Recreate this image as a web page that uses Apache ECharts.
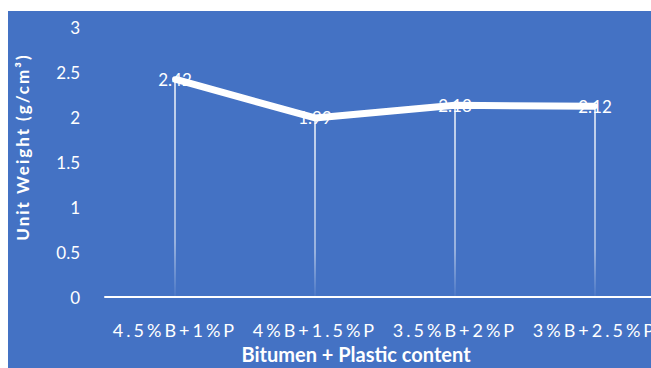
<!DOCTYPE html>
<html>
<head>
<meta charset="utf-8">
<script src="https://cdn.jsdelivr.net/npm/echarts@6/dist/echarts.min.js"></script>
<style>
  html, body { margin: 0; padding: 0; background: #ffffff; }
  #chart { position: absolute; left: 8px; top: 11px; width: 643px; height: 357px; }
</style>
</head>
<body>
<div id="chart"></div>
<script>
// Mix designations (bitumen % + plastic %)
const categories = ['4.5%B+1%P', '4%B+1.5%P', '3.5%B+2%P', '3%B+2.5%P'];
// Unit weight, g/cm³
const unitWeight = [2.42, 1.99, 2.13, 2.12];
// Value axis range
const yMin = 0;
const yMax = 3;
const yStep = 0.5;

const xTitle = 'Bitumen + Plastic content';
const yTitle = 'Unit Weight (g/cm³)';

const font = 'Lato, "Open Sans", sans-serif';
const el = document.getElementById('chart');
const chart = echarts.init(el, null, { renderer: 'svg' });

chart.setOption({
  animation: false,
  backgroundColor: '#4472C4',
  // plot runs past the right edge so the last category is clipped
  grid: { left: 97, width: 560, top: 16, bottom: 71, outerBoundsMode: 'none', containLabel: false },
  xAxis: {
    type: 'category',
    data: categories,
    boundaryGap: true,
    name: xTitle,
    nameLocation: 'middle',
    nameGap: 40,
    nameTextStyle: { color: '#ffffff', fontFamily: font, fontSize: 20, fontWeight: 'bold', padding: [0, 58, 0, 0] },
    axisLine: { show: true, lineStyle: { color: '#ffffff', width: 2 } },
    axisTick: { show: false },
    axisLabel: { color: '#ffffff', fontFamily: font, fontSize: 18, margin: 24, interval: 0 },
    splitLine: { show: false }
  },
  yAxis: {
    type: 'value',
    min: yMin,
    max: yMax,
    interval: yStep,
    name: yTitle,
    nameLocation: 'middle',
    nameGap: 74,
    nameTextStyle: { color: '#ffffff', fontFamily: font, fontSize: 17, fontWeight: 'bold', padding: [0, 0, 0, 30] },
    axisLine: { show: false },
    axisTick: { show: false },
    axisLabel: { color: '#ffffff', fontFamily: font, fontSize: 17, margin: 25 },
    splitLine: { show: false }
  },
  series: [
    {
      // thin drop lines from each point to the category axis
      type: 'bar',
      data: unitWeight,
      barWidth: 1.5,
      silent: true,
      itemStyle: {
        color: new echarts.graphic.LinearGradient(0, 0, 0, 1, [
          { offset: 0, color: 'rgba(255,255,255,0.95)' },
          { offset: 0.75, color: 'rgba(255,255,255,0.6)' },
          { offset: 1, color: 'rgba(255,255,255,0.05)' }
        ])
      },
      z: 1
    },
    {
      type: 'line',
      data: unitWeight,
      symbol: 'circle',
      symbolSize: 6,
      itemStyle: { color: '#ffffff' },
      lineStyle: { color: '#ffffff', width: 7 },
      label: {
        show: true,
        position: 'inside',
        color: '#ffffff',
        fontFamily: font,
        fontSize: 17
      },
      z: 3
    }
  ]
});

// widen the character spacing of the category labels and the value-axis title
function spaceLabels() {
  el.querySelectorAll('text').forEach(function (t) {
    if (categories.indexOf(t.textContent) !== -1) {
      t.style.letterSpacing = '3px';
    } else if (t.textContent === yTitle) {
      t.style.letterSpacing = '2px';
    }
  });
}
chart.on('finished', spaceLabels);
spaceLabels();
</script>
</body>
</html>
